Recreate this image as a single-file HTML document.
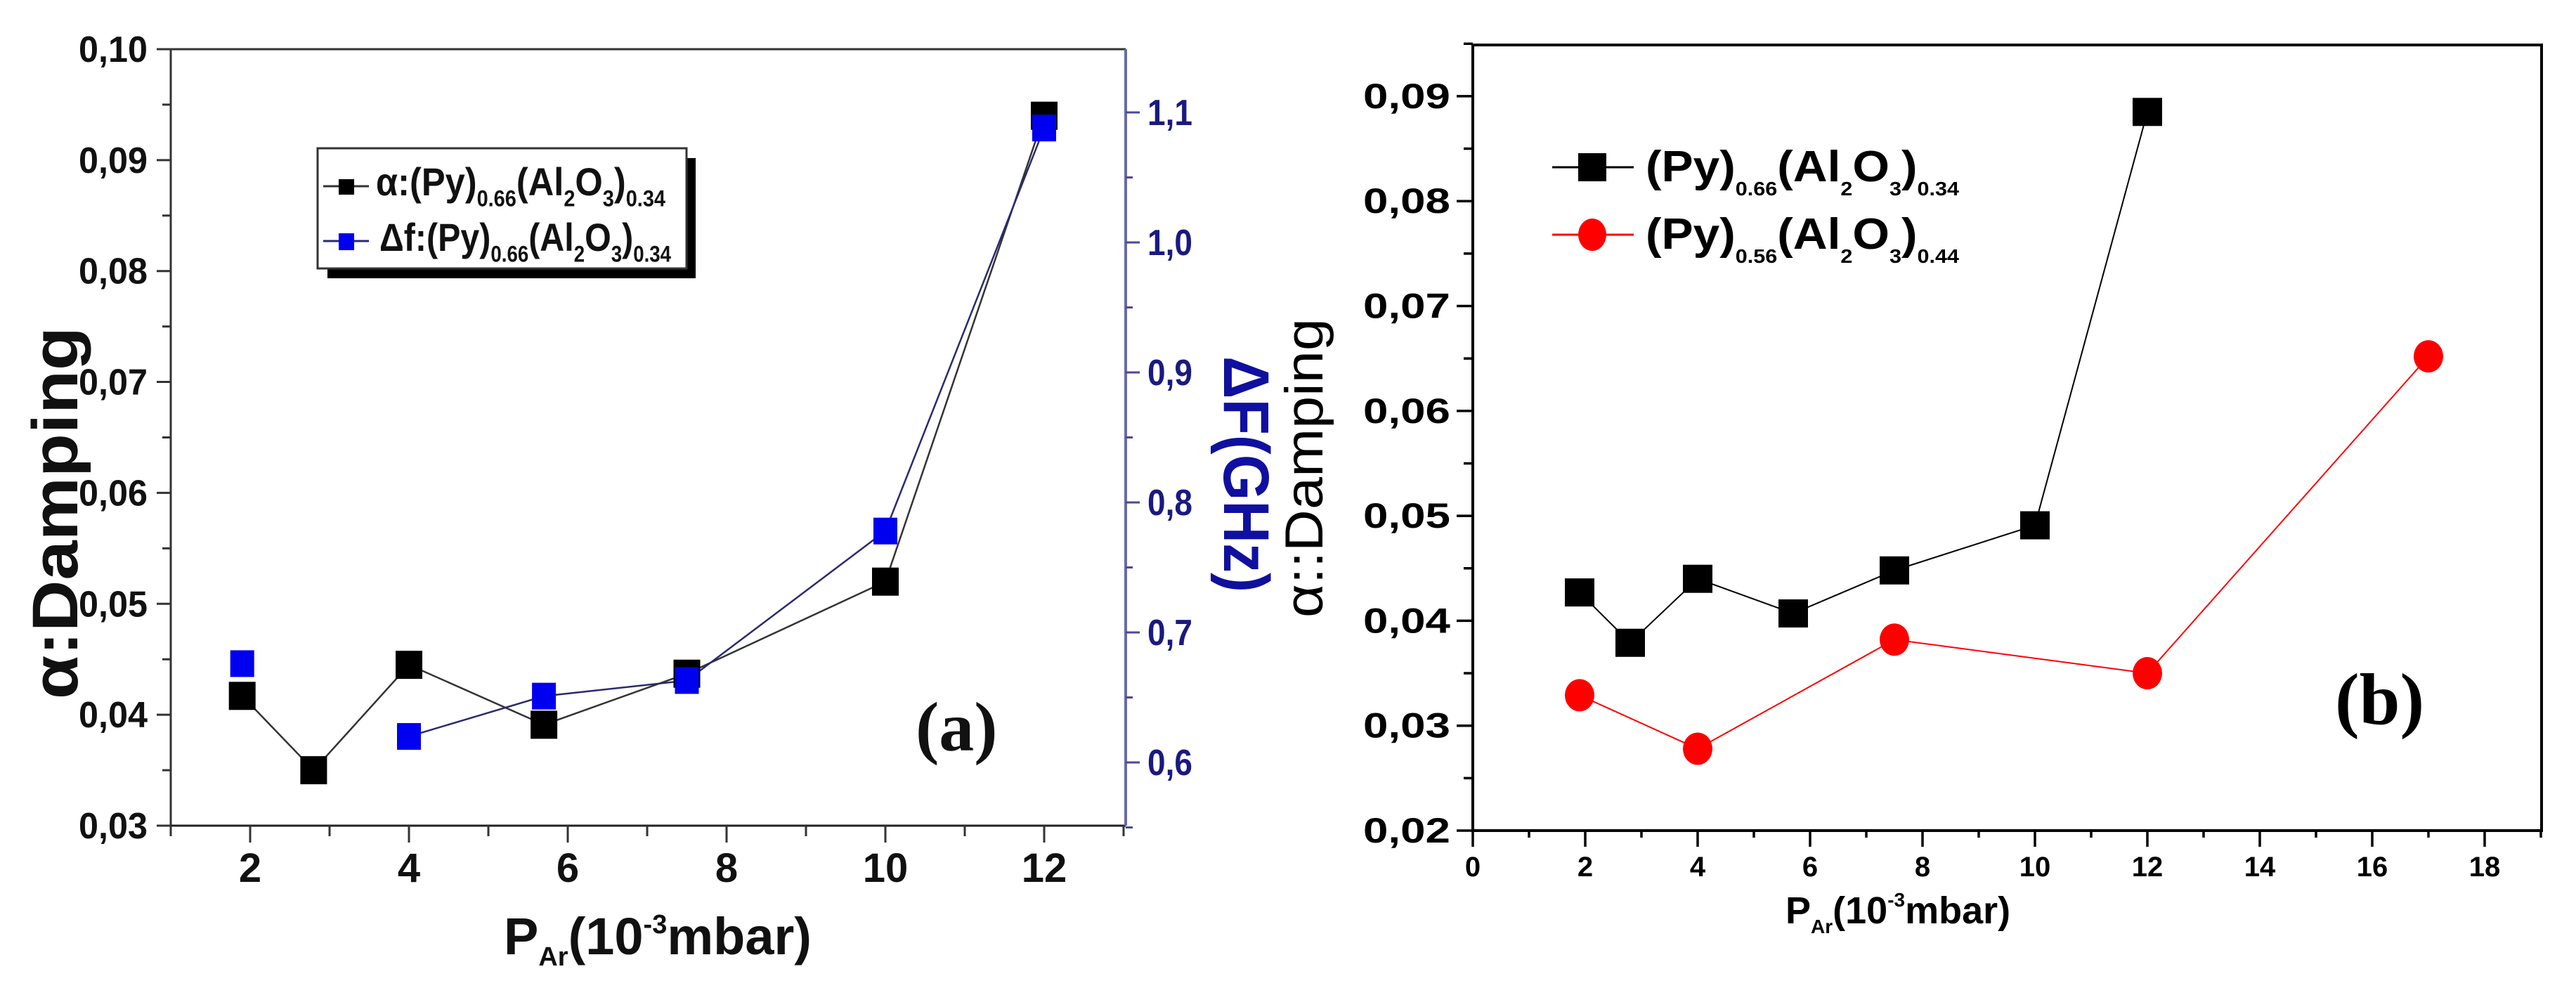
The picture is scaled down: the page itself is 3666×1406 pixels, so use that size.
<!DOCTYPE html>
<html><head><meta charset="utf-8"><style>
html,body{margin:0;padding:0;background:#fff;}
svg{display:block;font-family:"Liberation Sans",Arial,sans-serif;}
</style></head><body>
<svg id="fig" width="3666" height="1406" viewBox="0 0 3666 1406" xmlns="http://www.w3.org/2000/svg">
<rect width="3666" height="1406" fill="#fff"/>
<g id="ga"></g>
<g id="gb"></g>
</svg>
<script>
// ---- chart (a) data ----
const aX = [1.9, 2.8, 4, 5.7, 7.5, 10, 12];
const aDamping = [0.0417, 0.035, 0.0445, 0.0391, 0.0437, 0.052, 0.094];
const aFx = [1.9, 4, 5.7, 7.5, 10, 12];
const aFreq = [0.676, 0.620, 0.651, 0.663, 0.778, 1.088];
const aXTicks = [2, 4, 6, 8, 10, 12];
const aYTicks = [0.03, 0.04, 0.05, 0.06, 0.07, 0.08, 0.09, 0.10];
const aYTickLabels = ["0,03","0,04","0,05","0,06","0,07","0,08","0,09","0,10"];
const aRTicks = [0.6, 0.7, 0.8, 0.9, 1.0, 1.1];
const aRTickLabels = ["0,6","0,7","0,8","0,9","1,0","1,1"];
// ---- chart (b) data ----
const bX1 = [1.9, 2.8, 4, 5.7, 7.5, 10, 12];
const bY1 = [0.0427, 0.0379, 0.044, 0.0407, 0.0448, 0.0491, 0.0885];
const bX2 = [1.9, 4, 7.5, 12, 17];
const bY2 = [0.0329, 0.0278, 0.0382, 0.035, 0.0652];
const bXTicks = [0, 2, 4, 6, 8, 10, 12, 14, 16, 18];
const bYTicks = [0.02, 0.03, 0.04, 0.05, 0.06, 0.07, 0.08, 0.09];
const bYTickLabels = ["0,02","0,03","0,04","0,05","0,06","0,07","0,08","0,09"];

const NS = "http://www.w3.org/2000/svg";
function mk(parent, tag, attrs, text) {
  const e = document.createElementNS(NS, tag);
  for (const k in attrs) e.setAttribute(k, attrs[k]);
  if (text !== undefined) e.textContent = text;
  parent.appendChild(e);
  return e;
}
const axA = v => 130 + v * 113;
const ayA = v => 1175 - (v - 0.03) * 15786;
const ayAR = v => 160 + (1.1 - v) * 1850;
const axB = v => 2096 + v * 80;
const ayB = v => 1182 - (v - 0.02) * 14930;

// ================= Chart A =================
const ga = document.getElementById('ga');
const L = 243, R = 1602, T = 70, B = 1175;
let e;
e = mk(ga, 'line', {x1:L, y1:T, x2:R, y2:T, stroke:'#333', 'stroke-width':3});
 
e = mk(ga, 'line', {x1:L, y1:T, x2:L, y2:B+10, stroke:'#333', 'stroke-width':3});
 
e = mk(ga, 'line', {x1:L-18, y1:B, x2:R, y2:B, stroke:'#222', 'stroke-width':3});
 
e = mk(ga, 'line', {x1:R, y1:T, x2:R, y2:B, stroke:'#6a6aa8', 'stroke-width':4});
 

for (let v = 1; v <= 13; v++) {
  const maj = aXTicks.includes(v);
  e = mk(ga, 'line', {x1:axA(v), y1:B, x2:axA(v), y2:B + (maj ? 24 : 15), stroke:'#333', 'stroke-width':3});
   
}
aXTicks.forEach(v => {
  e = mk(ga, 'text', {x:axA(v), y:1255, 'text-anchor':'middle', 'font-size':58, 'font-weight':'bold', fill:'#111'}, String(v));
   
});
for (let i = 0; i < aYTicks.length; i++) {
  const y = ayA(aYTicks[i]);
  e = mk(ga, 'line', {x1:L-20, y1:y, x2:L, y2:y, stroke:'#333', 'stroke-width':3});
   
  if (i < aYTicks.length - 1) {
    const ym = ayA(aYTicks[i] + 0.005);
    e = mk(ga, 'line', {x1:L-12, y1:ym, x2:L, y2:ym, stroke:'#333', 'stroke-width':3});
     
  }
  e = mk(ga, 'text', {x:112, y:y+18, 'font-size':52, 'font-weight':'bold', fill:'#111', textLength:98, lengthAdjust:'spacingAndGlyphs'}, aYTickLabels[i]);
   
}
for (let i = 0; i < aRTicks.length; i++) {
  const y = ayAR(aRTicks[i]);
  e = mk(ga, 'line', {x1:R, y1:y, x2:R+20, y2:y, stroke:'#4a4a90', 'stroke-width':3});
   
  const ym = ayAR(aRTicks[i] - 0.05);
  e = mk(ga, 'line', {x1:R, y1:ym, x2:R+10, y2:ym, stroke:'#4a4a90', 'stroke-width':3});
   
  e = mk(ga, 'text', {x:1633, y:y+18, 'font-size':52, 'font-weight':'bold', fill:'#1a1a80', textLength:64, lengthAdjust:'spacingAndGlyphs'}, aRTickLabels[i]);
   
}
e = mk(ga, 'polyline', {points: aX.map((x,i)=>axA(x)+','+ayA(aDamping[i])).join(' '), fill:'none', stroke:'#333', 'stroke-width':2.5});
 
e = mk(ga, 'polyline', {points: aFx.slice(1).map((x,i)=>axA(x)+','+ayAR(aFreq[i+1])).join(' '), fill:'none', stroke:'#2a2a70', 'stroke-width':2.5});
 
aX.forEach((x,i) => {
  e = mk(ga, 'rect', {x:axA(x)-19, y:ayA(aDamping[i])-20, width:38, height:40, fill:'#000'});
   
});
aFx.forEach((x,i) => {
  e = mk(ga, 'rect', {x:axA(x)-17, y:ayAR(aFreq[i])-19, width:34, height:38, fill:'#0000f0'});
   
});
const lga = mk(ga, 'g', {});
 
mk(lga, 'rect', {x:466, y:225, width:524, height:171, fill:'#000'});
mk(lga, 'rect', {x:452, y:211, width:525, height:171, fill:'#fff', stroke:'#333', 'stroke-width':3});
mk(lga, 'line', {x1:460, y1:265, x2:525, y2:265, stroke:'#333', 'stroke-width':3});
mk(lga, 'rect', {x:482, y:255, width:22, height:22, fill:'#000'});
mk(lga, 'line', {x1:460, y1:343, x2:525, y2:343, stroke:'#2a2a70', 'stroke-width':3});
mk(lga, 'rect', {x:482, y:332, width:22, height:24, fill:'#0000f0'});
function legendText(parent, x, y, prefix, fs, sfs, w) {
  const t = mk(parent, 'text', {x:x, y:y, 'font-size':fs, fill:'#111', textLength:w, lengthAdjust:'spacingAndGlyphs'});
  const parts = [[prefix+'(Py)',0],['0.66',1],['(Al',-1],['2',1],['O',-1],['3',1],[')',-1],['0.34',1]];
  parts.forEach(p => {
    const s = mk(t, 'tspan', {}, p[0]);
    if (p[1] === 1) { s.setAttribute('font-size', sfs); s.setAttribute('dy', fs*0.28); }
    if (p[1] === -1) { s.setAttribute('dy', -fs*0.28); }
  });
  return t;
}
e = legendText(lga, 535, 278, 'α:', 56, 32, 412); e.setAttribute('font-weight','bold');
 
e = legendText(lga, 540, 357, 'Δf:', 56, 32, 415); e.setAttribute('font-weight','bold');
 
e = mk(ga, 'text', {x:0, y:0, transform:'translate(110,730) rotate(-90)', 'text-anchor':'middle', 'font-size':92, 'font-weight':'bold', fill:'#111', textLength:530, lengthAdjust:'spacingAndGlyphs'}, 'α:Damping');
 
e = mk(ga, 'text', {x:0, y:0, transform:'translate(1742,675) rotate(90)', 'text-anchor':'middle', 'font-size':92, 'font-weight':'bold', fill:'#1010a0', textLength:336, lengthAdjust:'spacingAndGlyphs'}, 'ΔF(GHz)');
 
e = mk(ga, 'text', {x:717, y:1358, 'font-size':74, 'font-weight':'bold', fill:'#111'});
 
mk(e, 'tspan', {}, 'P');
mk(e, 'tspan', {'font-size':38, dy:16}, 'Ar');
mk(e, 'tspan', {dy:-16}, '(10');
mk(e, 'tspan', {'font-size':38, dy:-30}, '-3');
mk(e, 'tspan', {dy:30}, 'mbar)');
e = mk(ga, 'text', {x:1303, y:1068, 'font-size':100, 'font-weight':'bold', 'font-family':'Liberation Serif, serif', fill:'#111'}, '(a)');
 

// ================= Chart B =================
const gb = document.getElementById('gb');
const bL = 2096, bR = 3617, bT = 64, bB = 1182;
e = mk(gb, 'rect', {x:bL, y:bT, width:bR-bL, height:bB-bT, fill:'none', stroke:'#000', 'stroke-width':4});
 
for (let v = 0; v <= 19; v++) {
  const maj = bXTicks.includes(v);
  e = mk(gb, 'line', {x1:axB(v), y1:bB, x2:axB(v), y2:bB + (maj ? 23 : 10), stroke:'#000', 'stroke-width':3.5});
   
}
bXTicks.forEach(v => {
  e = mk(gb, 'text', {x:axB(v), y:1247, 'text-anchor':'middle', 'font-size':40, 'font-weight':'bold', fill:'#000'}, String(v));
   
});
for (let i = 0; i < bYTicks.length; i++) {
  const y = ayB(bYTicks[i]);
  e = mk(gb, 'line', {x1:bL-23, y1:y, x2:bL, y2:y, stroke:'#000', 'stroke-width':3.5});
   
  const ym = ayB(bYTicks[i] + 0.005);
  e = mk(gb, 'line', {x1:bL-13, y1:ym, x2:bL, y2:ym, stroke:'#000', 'stroke-width':3.5});
   
  e = mk(gb, 'text', {x:1940, y:y+17, 'font-size':50, 'font-weight':'bold', fill:'#000', textLength:124, lengthAdjust:'spacingAndGlyphs'}, bYTickLabels[i]);
   
}
e = mk(gb, 'polyline', {points: bX1.map((x,i)=>axB(x)+','+ayB(bY1[i])).join(' '), fill:'none', stroke:'#000', 'stroke-width':2});
 
e = mk(gb, 'polyline', {points: bX2.map((x,i)=>axB(x)+','+ayB(bY2[i])).join(' '), fill:'none', stroke:'#f00', 'stroke-width':2});
 
bX1.forEach((x,i) => {
  e = mk(gb, 'rect', {x:axB(x)-21, y:ayB(bY1[i])-20, width:42, height:40, fill:'#000'});
   
});
bX2.forEach((x,i) => {
  e = mk(gb, 'ellipse', {cx:axB(x), cy:ayB(bY2[i]), rx:21, ry:23, fill:'#f00'});
   
});
const lgb = mk(gb, 'g', {});
 
mk(lgb, 'line', {x1:2209, y1:238, x2:2325, y2:238, stroke:'#000', 'stroke-width':3});
mk(lgb, 'rect', {x:2246, y:218, width:40, height:40, fill:'#000'});
mk(lgb, 'line', {x1:2209, y1:334, x2:2325, y2:334, stroke:'#f00', 'stroke-width':3});
mk(lgb, 'ellipse', {cx:2266, cy:334, rx:20, ry:23, fill:'#f00'});
function legendTextB(parent, y, sub1, sub2) {
  const t = mk(parent, 'text', {x:2342, y:y, 'font-size':62, 'font-weight':'bold', fill:'#000', textLength:446, lengthAdjust:'spacingAndGlyphs'});
  const parts = [['(Py)',0],[sub1,1],['(Al',-1],['2',1],['O',-1],['3',1],[')',-1],[sub2,1]];
  parts.forEach(p => {
    const s = mk(t, 'tspan', {}, p[0]);
    if (p[1] === 1) { s.setAttribute('font-size', 28); s.setAttribute('dy', 20); }
    if (p[1] === -1) { s.setAttribute('dy', -20); }
  });
  return t;
}
e = legendTextB(lgb, 258, '0.66', '0.34');
 
e = legendTextB(lgb, 354, '0.56', '0.44');
 
e = mk(gb, 'text', {x:0, y:0, transform:'translate(1882,666) rotate(-90)', 'text-anchor':'middle', 'font-size':76, fill:'#000', textLength:426, lengthAdjust:'spacingAndGlyphs'}, 'α::Damping');
 
e = mk(gb, 'text', {x:2541, y:1314, 'font-size':54, 'font-weight':'bold', fill:'#000'});
 
mk(e, 'tspan', {}, 'P');
mk(e, 'tspan', {'font-size':28, dy:14}, 'Ar');
mk(e, 'tspan', {dy:-14}, '(10');
mk(e, 'tspan', {'font-size':28, dy:-24}, '-3');
mk(e, 'tspan', {dy:24}, 'mbar)');
e = mk(gb, 'text', {x:3323, y:1030, 'font-size':104, 'font-weight':'bold', 'font-family':'Liberation Serif, serif', fill:'#000'}, '(b)');
 
</script>
</body></html>
